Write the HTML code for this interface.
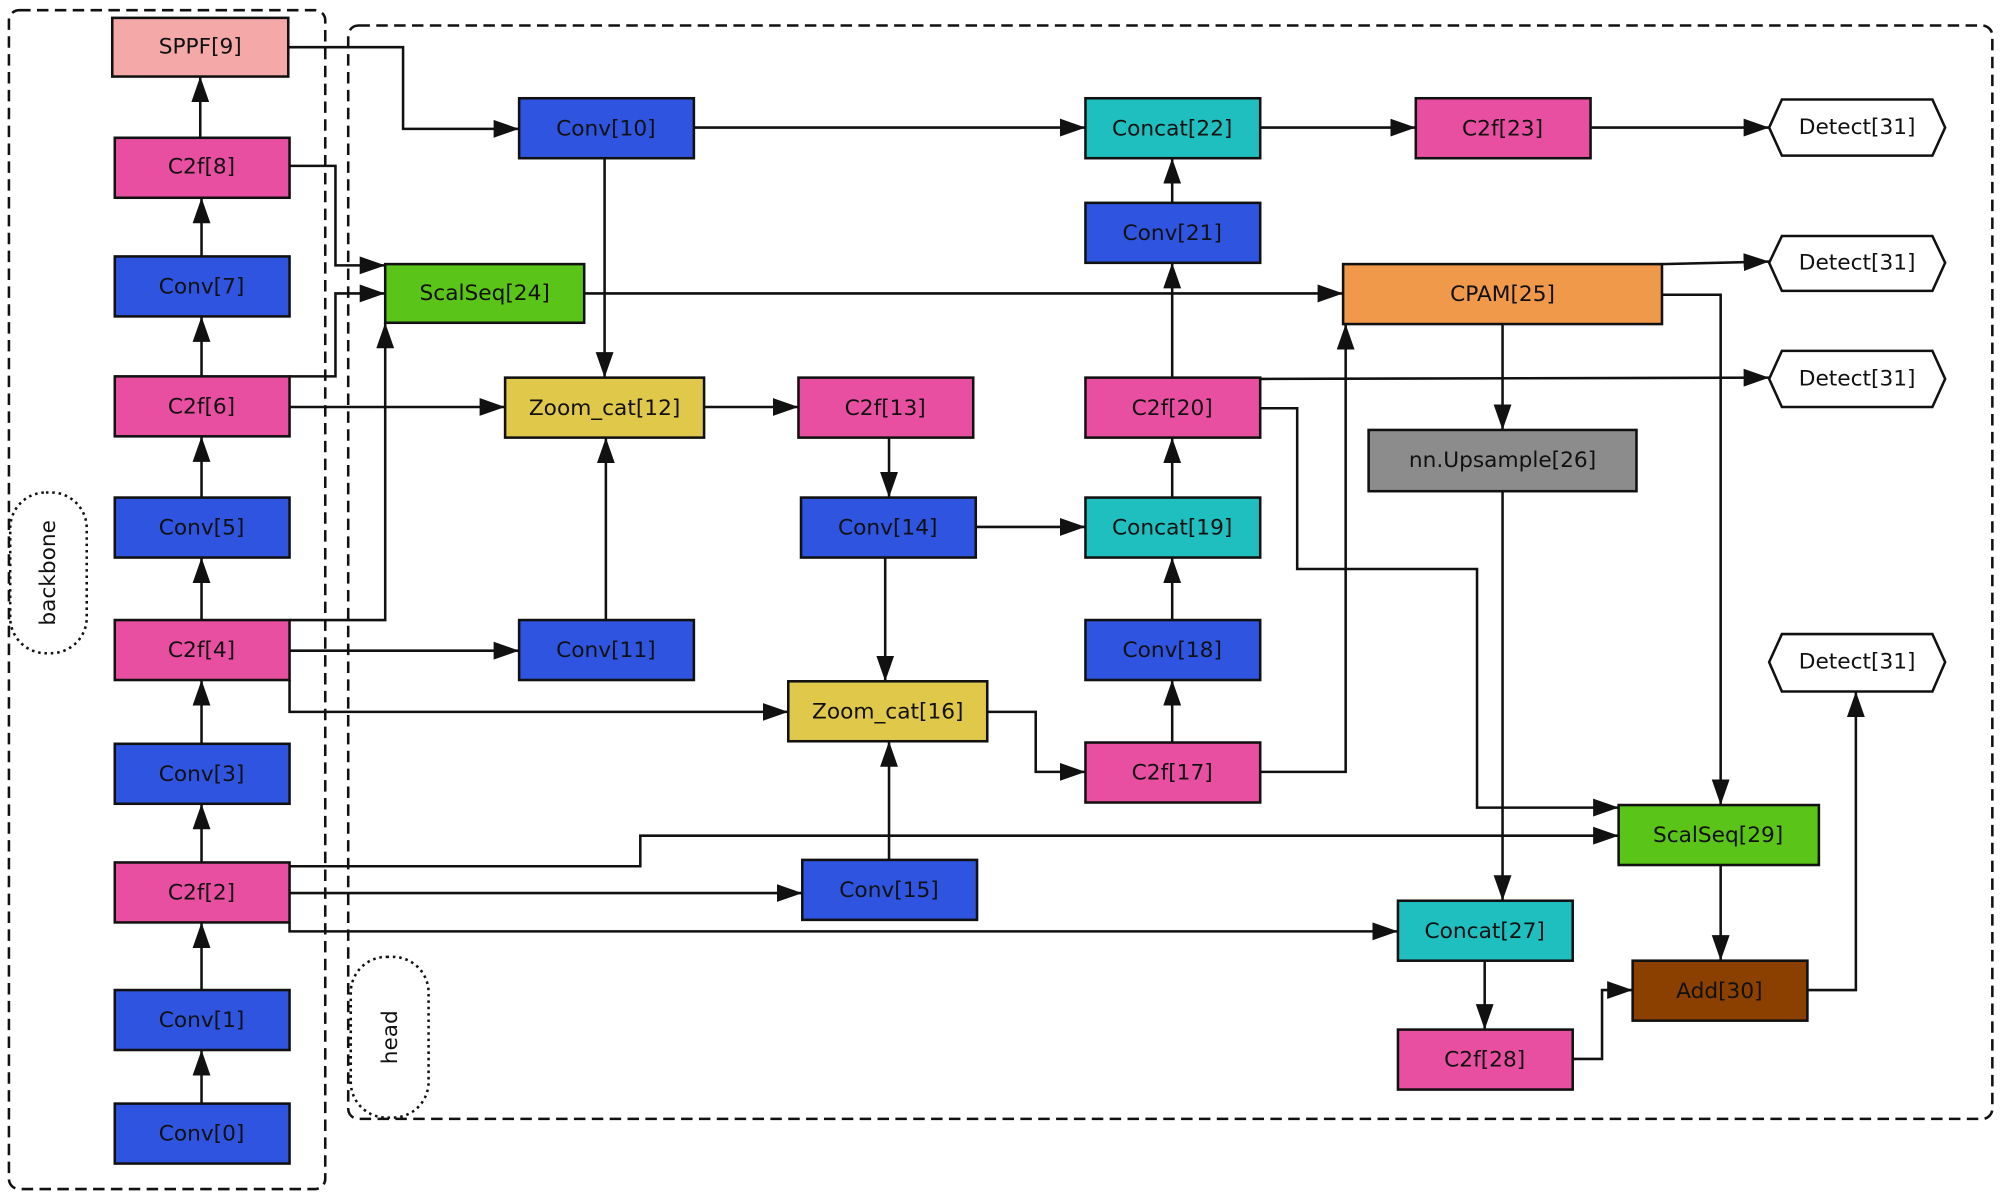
<!DOCTYPE html>
<html><head><meta charset="utf-8"><style>
html,body{margin:0;padding:0;background:#fff;width:2000px;height:1198px;overflow:hidden}
svg{display:block}
text{font-family:"DejaVu Sans","Liberation Sans",sans-serif;font-size:17px;fill:#111;text-anchor:middle;dominant-baseline:central}
.n{stroke:#111;stroke-width:2}
.e{fill:none;stroke:#111;stroke-width:2;marker-end:url(#a)}
</style></head><body>
<svg width="2000" height="1198" viewBox="0 0 1568 939" preserveAspectRatio="none">
<defs><marker id="a" viewBox="0 0 10 10" refX="10" refY="5" markerWidth="9" markerHeight="9" markerUnits="userSpaceOnUse" orient="auto"><path d="M0,0L10,5L0,10z" fill="#111"/></marker>
<marker id="a2" viewBox="0 0 10 10" refX="10" refY="5" markerWidth="18" markerHeight="14" orient="auto"><path d="M0,0L10,5L0,10z" fill="#111"/></marker></defs>
<style>.e{marker-end:url(#m)}</style>
<defs><marker id="m" viewBox="0 0 20 14" refX="20" refY="7" markerWidth="20" markerHeight="14" markerUnits="userSpaceOnUse" orient="auto"><path d="M0,0L20,7L0,14z" fill="#111"/></marker></defs>

<rect x="7" y="8" width="248" height="924" rx="8" fill="none" stroke="#111" stroke-width="2" stroke-dasharray="9,5"/>
<rect x="273" y="20" width="1289" height="857" rx="8" fill="none" stroke="#111" stroke-width="2" stroke-dasharray="9,5"/>
<rect x="8" y="386" width="60" height="126" rx="28" fill="none" stroke="#111" stroke-width="2" stroke-dasharray="2,3"/>
<text transform="translate(38,449) rotate(-90)">backbone</text>
<rect x="275" y="750" width="61" height="126" rx="28" fill="none" stroke="#111" stroke-width="2" stroke-dasharray="2,3"/>
<text transform="translate(306,813) rotate(-90)">head</text>

<!-- edges -->
<path class="e" d="M158,865V823"/><path class="e" d="M158,776V723"/><path class="e" d="M158,676V630"/>
<path class="e" d="M158,583V533"/><path class="e" d="M158,486V437"/><path class="e" d="M158,390V342"/>
<path class="e" d="M158,295V248"/><path class="e" d="M158,201V155"/><path class="e" d="M157,108V60"/>
<path class="e" d="M226,37H316V101H407"/>
<path class="e" d="M227,130H263V208H302"/>
<path class="e" d="M227,295H263V230H302"/>
<path class="e" d="M227,486H302V253"/>
<path class="e" d="M227,319H396"/>
<path class="e" d="M474,124V296"/>
<path class="e" d="M475,486V343"/>
<path class="e" d="M227,510H407"/>
<path class="e" d="M227,533V558H618"/>
<path class="e" d="M552,319H626"/>
<path class="e" d="M697,343V390"/>
<path class="e" d="M765,413H851"/>
<path class="e" d="M694,437V534"/>
<path class="e" d="M697,674V581"/>
<path class="e" d="M227,700H629"/>
<path class="e" d="M227,679H502V655H1269"/>
<path class="e" d="M227,723V730H1096"/>
<path class="e" d="M774,558H812V605H851"/>
<path class="e" d="M919,582V533"/><path class="e" d="M919,486V437"/><path class="e" d="M919,390V343"/>
<path class="e" d="M919,296V206"/><path class="e" d="M919,159V124"/>
<path class="e" d="M544,100H851"/><path class="e" d="M988,100H1110"/><path class="e" d="M1247,100H1387"/>
<path class="e" d="M458,230H1053"/>
<path class="e" d="M988,605H1055V254"/>
<path class="e" d="M1303,207L1387,205"/>
<path class="e" d="M1303,231H1349V631"/>
<path class="e" d="M1178,254V337"/>
<path class="e" d="M988,297L1387,296"/>
<path class="e" d="M988,320H1017V446H1158V633H1269"/>
<path class="e" d="M1178,385V706"/>
<path class="e" d="M1164,753V807"/>
<path class="e" d="M1233,830H1256V776H1280"/>
<path class="e" d="M1349,678V753"/>
<path class="e" d="M1417,776H1455V542"/>

<!-- nodes -->
<g class="n">
<rect x="88" y="14" width="138" height="46" fill="#f4a9a8"/>
<rect x="90" y="108" width="137" height="47" fill="#e94fa0"/>
<rect x="90" y="201" width="137" height="47" fill="#2f55e0"/>
<rect x="90" y="295" width="137" height="47" fill="#e94fa0"/>
<rect x="90" y="390" width="137" height="47" fill="#2f55e0"/>
<rect x="90" y="486" width="137" height="47" fill="#e94fa0"/>
<rect x="90" y="583" width="137" height="47" fill="#2f55e0"/>
<rect x="90" y="676" width="137" height="47" fill="#e94fa0"/>
<rect x="90" y="776" width="137" height="47" fill="#2f55e0"/>
<rect x="90" y="865" width="137" height="47" fill="#2f55e0"/>
<rect x="407" y="77" width="137" height="47" fill="#2f55e0"/>
<rect x="302" y="207" width="156" height="46" fill="#5ac419"/>
<rect x="396" y="296" width="156" height="47" fill="#e0c84a"/>
<rect x="407" y="486" width="137" height="47" fill="#2f55e0"/>
<rect x="626" y="296" width="137" height="47" fill="#e94fa0"/>
<rect x="628" y="390" width="137" height="47" fill="#2f55e0"/>
<rect x="618" y="534" width="156" height="47" fill="#e0c84a"/>
<rect x="629" y="674" width="137" height="47" fill="#2f55e0"/>
<rect x="851" y="77" width="137" height="47" fill="#1fbfbf"/>
<rect x="851" y="159" width="137" height="47" fill="#2f55e0"/>
<rect x="851" y="296" width="137" height="47" fill="#e94fa0"/>
<rect x="851" y="390" width="137" height="47" fill="#1fbfbf"/>
<rect x="851" y="486" width="137" height="47" fill="#2f55e0"/>
<rect x="851" y="582" width="137" height="47" fill="#e94fa0"/>
<rect x="1110" y="77" width="137" height="47" fill="#e94fa0"/>
<rect x="1053" y="207" width="250" height="47" fill="#f0994a"/>
<rect x="1073" y="337" width="210" height="48" fill="#8c8c8c"/>
<rect x="1269" y="631" width="157" height="47" fill="#5ac419"/>
<rect x="1096" y="706" width="137" height="47" fill="#1fbfbf"/>
<rect x="1096" y="807" width="137" height="47" fill="#e94fa0"/>
<rect x="1280" y="753" width="137" height="47" fill="#8b4000"/>
<polygon points="1387,100 1397,78 1515,78 1525,100 1515,122 1397,122" fill="#fff"/>
<polygon points="1387,206 1397,185 1515,185 1525,206 1515,228 1397,228" fill="#fff"/>
<polygon points="1387,297 1397,275 1515,275 1525,297 1515,319 1397,319" fill="#fff"/>
<polygon points="1387,519 1397,497 1515,497 1525,519 1515,542 1397,542" fill="#fff"/>
</g>
<text x="157" y="37">SPPF[9]</text><text x="158" y="131">C2f[8]</text><text x="158" y="225">Conv[7]</text>
<text x="158" y="319">C2f[6]</text><text x="158" y="414">Conv[5]</text><text x="158" y="510">C2f[4]</text>
<text x="158" y="607">Conv[3]</text><text x="158" y="700">C2f[2]</text><text x="158" y="800">Conv[1]</text>
<text x="158" y="889">Conv[0]</text>
<text x="475" y="101">Conv[10]</text><text x="380" y="230">ScalSeq[24]</text><text x="474" y="320">Zoom_cat[12]</text>
<text x="475" y="510">Conv[11]</text><text x="694" y="320">C2f[13]</text><text x="696" y="414">Conv[14]</text>
<text x="696" y="558">Zoom_cat[16]</text><text x="697" y="698">Conv[15]</text>
<text x="919" y="101">Concat[22]</text><text x="919" y="183">Conv[21]</text><text x="919" y="320">C2f[20]</text>
<text x="919" y="414">Concat[19]</text><text x="919" y="510">Conv[18]</text><text x="919" y="606">C2f[17]</text>
<text x="1178" y="101">C2f[23]</text><text x="1178" y="231">CPAM[25]</text><text x="1178" y="361">nn.Upsample[26]</text>
<text x="1347" y="655">ScalSeq[29]</text><text x="1164" y="730">Concat[27]</text><text x="1164" y="831">C2f[28]</text>
<text x="1348" y="777">Add[30]</text>
<text x="1456" y="100">Detect[31]</text><text x="1456" y="206">Detect[31]</text>
<text x="1456" y="297">Detect[31]</text><text x="1456" y="519">Detect[31]</text>
</svg>
</body></html>
